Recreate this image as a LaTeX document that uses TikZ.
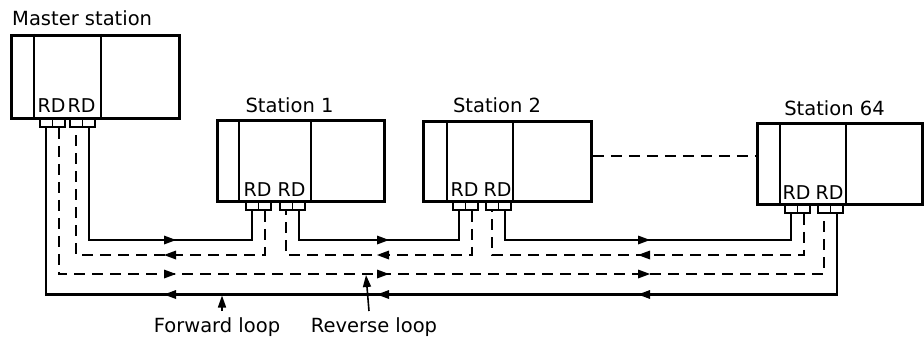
\documentclass[tikz,border=0pt]{standalone}
\usepackage{fontspec}
\setmainfont{DejaVu Sans}
\usetikzlibrary{arrows.meta}
\begin{document}
\begin{tikzpicture}[x=1pt,y=-1pt,
  lbl/.style={font=\fontsize{19.5}{21}\selectfont, inner sep=0pt},
  rdlbl/.style={font=\fontsize{19}{21}\selectfont, inner sep=0pt},
  stbox/.style={draw, line width=2.8pt, inner sep=0pt, anchor=north west},
  divider/.style={line width=2pt},
  port/.style={draw, line width=1.8pt, minimum width=12.5pt, minimum height=9pt, inner sep=0pt, anchor=north west},
  solidloop/.style={line width=2.1pt},
  dashloop/.style={line width=2.1pt, dash pattern=on 11pt off 7pt},
  pointer/.style={line width=1.6pt, -{Triangle[length=12pt,width=8pt]}}]
\useasboundingbox (0,0) rectangle (924,337);

% loop levels
\coordinate (LA) at (0,240);
\coordinate (LB) at (0,255);
\coordinate (LC) at (0,274);
\coordinate (LD) at (0,294.5);
\coordinate (Lx) at (0,156);

% Master station
\node[stbox, minimum width=168pt, minimum height=83pt] (m) at (10,34) {};
\draw[divider] (34,34) -- (34,117);
\draw[divider] (101,34) -- (101,117);
\node[port] (m-a1) at (39,117) {};
\node[port] (m-a2) at (51.5,117) {};
\node[port] (m-b1) at (69,117) {};
\node[port] (m-b2) at (81.5,117) {};
\node[rdlbl, anchor=base] at (51.5,113) {RD};
\node[rdlbl, anchor=base] at (81.5,113) {RD};
\node[lbl, anchor=base west] (mt) at (12,26) {Master station};

% Station 1
\node[stbox, minimum width=167pt, minimum height=81pt] (s1) at (216,119) {};
\draw[divider] (239,119) -- (239,200);
\draw[divider] (311,119) -- (311,200);
\node[port] (s1-a1) at (245,200) {};
\node[port] (s1-a2) at (257.5,200) {};
\node[port] (s1-b1) at (279,200) {};
\node[port] (s1-b2) at (291.5,200) {};
\node[rdlbl, anchor=base] at (257.5,196) {RD};
\node[rdlbl, anchor=base] at (291.5,196) {RD};
\node[lbl, anchor=base] (s1t) at (289.5,112) {Station 1};

% Station 2
\node[stbox, minimum width=168pt, minimum height=80pt] (s2) at (422,120) {};
\draw[divider] (447,120) -- (447,200);
\draw[divider] (513,120) -- (513,200);
\node[port] (s2-a1) at (452,200) {};
\node[port] (s2-a2) at (464.5,200) {};
\node[port] (s2-b1) at (485,200) {};
\node[port] (s2-b2) at (497.5,200) {};
\node[rdlbl, anchor=base] at (464.5,196) {RD};
\node[rdlbl, anchor=base] at (497.5,196) {RD};
\node[lbl, anchor=base] (s2t) at (497,112) {Station 2};

% Station 64
\node[stbox, minimum width=165pt, minimum height=81pt] (s4) at (756,122) {};
\draw[divider] (780,122) -- (780,203);
\draw[divider] (846,122) -- (846,203);
\node[port] (s4-a1) at (784,203) {};
\node[port] (s4-a2) at (796.5,203) {};
\node[port] (s4-b1) at (817,203) {};
\node[port] (s4-b2) at (829.5,203) {};
\node[rdlbl, anchor=base] at (796.5,199) {RD};
\node[rdlbl, anchor=base] at (829.5,199) {RD};
\node[lbl, anchor=base] (s4t) at (834.5,115) {Station 64};

% link between station 2 and station 64
\draw[dashloop] (s2.east |- Lx) -- (s4.west |- Lx);

% forward loop (solid)
\draw[solidloop] (m-b2.south) |- (LA -| s1-a1.south) -- (s1-a1.south);
\draw[solidloop] (s1-b2.south) |- (LA -| s2-a1.south) -- (s2-a1.south);
\draw[solidloop] (s2-b2.south) |- (LA -| s4-a1.south) -- (s4-a1.south);
\draw[solidloop] (s4-b2.south) |- (LD -| m-a1.south) -- (m-a1.south);

% reverse loop (dashed)
\draw[dashloop] (m-a2.south) |- (LC -| s4-b1.south) -- (s4-b1.south);
\draw[dashloop] (s4-a2.south) |- (LB -| s2-b1.south) -- (s2-b1.south);
\draw[dashloop] (s2-a2.south) |- (LB -| s1-b1.south) -- (s1-b1.south);
\draw[dashloop] (s1-a2.south) |- (LB -| m-b1.south) -- (m-b1.south);

% direction arrowheads
\foreach \x in {170,383,644} {
  \fill ({\x+6},240) -- ({\x-6},235.5) -- ({\x-6},244.5) -- cycle;
  \fill ({\x-6},255) -- ({\x+6},250.5) -- ({\x+6},259.5) -- cycle;
  \fill ({\x+6},274) -- ({\x-6},269.5) -- ({\x-6},278.5) -- cycle;
  \fill ({\x-6},294.5) -- ({\x+6},290) -- ({\x+6},299) -- cycle;
}

% labels with pointers
\node[lbl, anchor=base] (fl) at (217,332) {Forward loop};
\node[lbl, anchor=base] (rl) at (374,332) {Reverse loop};
\coordinate (fwdpt) at (222,295.5);
\coordinate (revpt) at (366,275);
\coordinate (fwdfoot) at (222,311);
\coordinate (revfoot) at (369,311);
\draw[pointer] (fwdfoot) -- (fwdpt);
\draw[pointer] (revfoot) -- (revpt);
\end{tikzpicture}
\end{document}
